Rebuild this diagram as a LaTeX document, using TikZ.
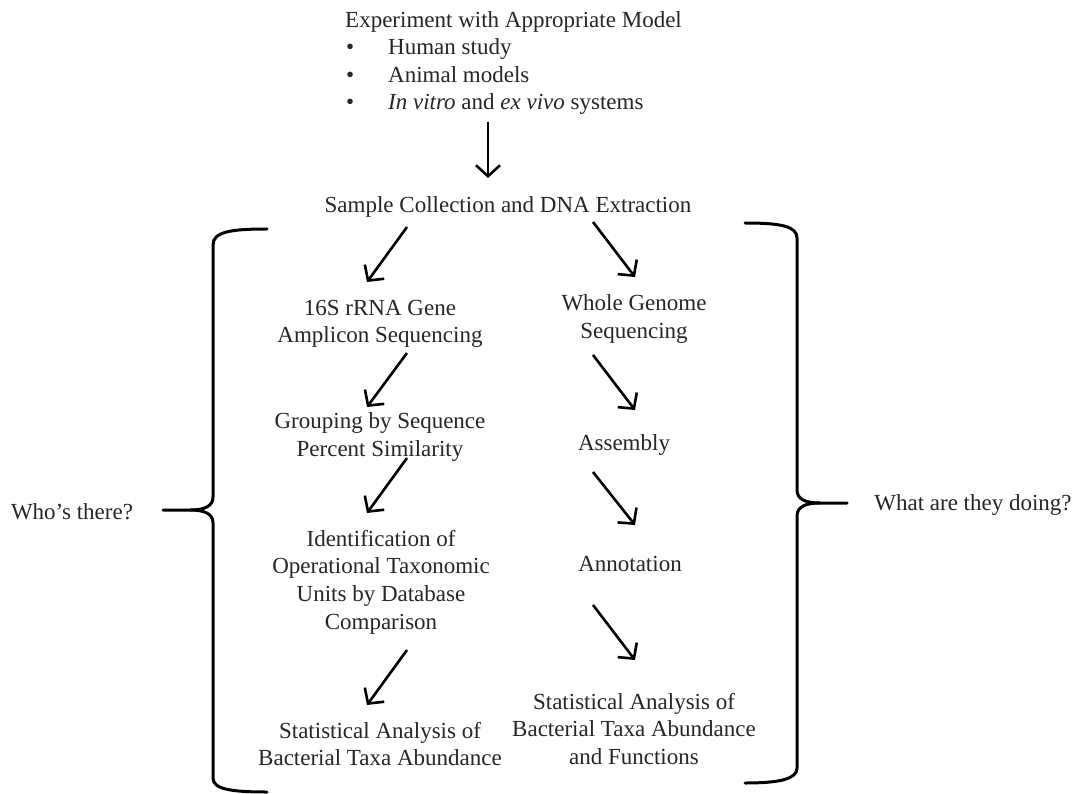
\documentclass[tikz,border=0pt]{standalone}
\usepackage{fontspec}
\setmainfont{Liberation Serif}
\usetikzlibrary{arrows.meta}
\begin{document}
\begin{tikzpicture}[x=1pt,y=-1pt,
  lbl/.style={inner sep=0pt,align=center,text=black!85,font=\fontsize{23}{27.6}\selectfont},
  arr/.style={line width=2.6pt,-{Straight Barb[length=11pt,width=24pt,line width=2.6pt]}},
  brc/.style={line width=3pt,line cap=round,line join=round}]
\useasboundingbox[fill=white] (0,0) rectangle (1076,794);

% top block
\node[lbl,align=left,anchor=west] (exp) at (345,63) {Experiment with Appropriate Model\\
\makebox[43pt][l]{\hspace{1pt}\textbullet}Human study\\
\makebox[43pt][l]{\hspace{1pt}\textbullet}Animal models\\
\makebox[43pt][l]{\hspace{1pt}\textbullet}\textit{In vitro} and \textit{ex vivo} systems};

\node[lbl] (sample) at (508,207) {Sample Collection and DNA Extraction};

\node[lbl] (amp) at (380,324) {16S rRNA Gene\\Amplicon Sequencing};
\node[lbl] (group) at (380,437) {Grouping by Sequence\\Percent Similarity};
\node[lbl] (ident) at (381,582) {Identification of\\Operational Taxonomic\\Units by Database\\Comparison};
\node[lbl] (statL) at (380,744) {Statistical Analysis of\\Bacterial Taxa Abundance};

\node[lbl] (wgs) at (634,319) {Whole Genome\\Sequencing};
\node[lbl] (asm) at (624,445) {Assembly};
\node[lbl] (ann) at (630,564) {Annotation};
\node[lbl] (statR) at (634,729) {Statistical Analysis of\\Bacterial Taxa Abundance\\and Functions};

\node[lbl] (who) at (72,512) {Who's there?};
\node[lbl] (what) at (973,505) {What are they doing?};

% arrow end points
\coordinate (a0s) at (488,122); \coordinate (a0e) at (488,178);
\coordinate (l1s) at (407,227); \coordinate (l1e) at (367,282);
\coordinate (r1s) at (593,222); \coordinate (r1e) at (635,277);
\coordinate (l2s) at (407,353); \coordinate (l2e) at (367,407);
\coordinate (r2s) at (593,355); \coordinate (r2e) at (635,410);
\coordinate (l3s) at (407,458); \coordinate (l3e) at (367,513);
\coordinate (r3s) at (593,472); \coordinate (r3e) at (635,525);
\coordinate (l4s) at (407,650); \coordinate (l4e) at (367,705);
\coordinate (r4s) at (593,605); \coordinate (r4e) at (635,660);

\draw[arr] (a0s) -- (a0e);
\draw[arr] (l1s) -- (l1e);
\draw[arr] (r1s) -- (r1e);
\draw[arr] (l2s) -- (l2e);
\draw[arr] (r2s) -- (r2e);
\draw[arr] (l3s) -- (l3e);
\draw[arr] (r3s) -- (r3e);
\draw[arr] (l4s) -- (l4e);
\draw[arr] (r4s) -- (r4e);

% left brace
\draw[brc] (267,229) .. controls (230,229) and (213,232) .. (213,245) -- (213,497)
  .. controls (213,506) and (205,510) .. (190,510) -- (163,510);
\draw[brc] (190,510) .. controls (205,510) and (213,514) .. (213,523) -- (213,778)
  .. controls (213,789) and (230,792) .. (267,792);
% right brace
\draw[brc] (745,223) .. controls (780,223) and (797,226) .. (797,238) -- (797,490)
  .. controls (797,499) and (805,503) .. (820,503) -- (847,503);
\draw[brc] (820,503) .. controls (805,503) and (797,507) .. (797,516) -- (797,768)
  .. controls (797,779) and (780,783) .. (745,783);
\end{tikzpicture}
\end{document}
